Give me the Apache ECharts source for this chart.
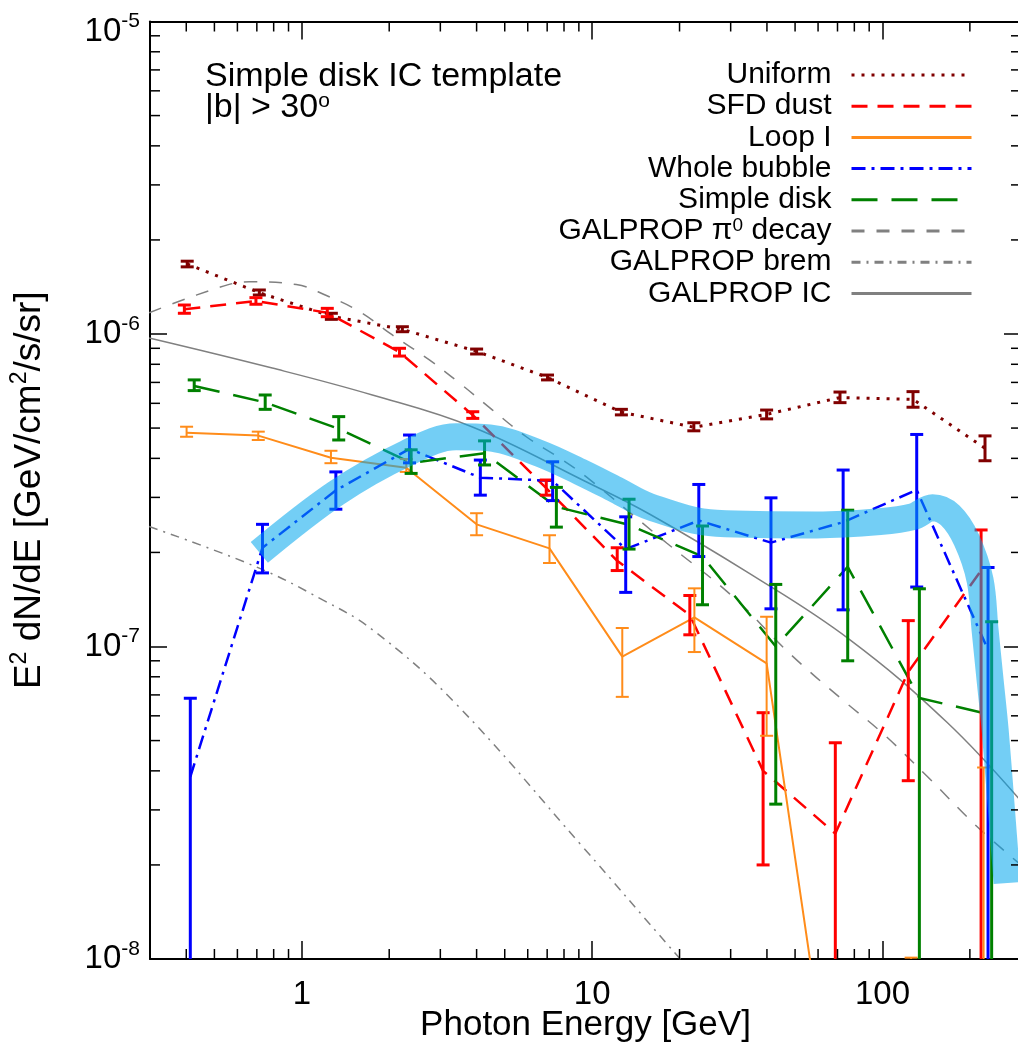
<!DOCTYPE html>
<html><head><meta charset="utf-8">
<script src="https://cdn.jsdelivr.net/npm/echarts@6/dist/echarts.min.js"></script>
<style>html,body{margin:0;padding:0;background:#fff}#c{width:1018px;height:1057px}</style>
</head><body><div id="c"></div>
<script>
// ---------------- data ----------------
const E_uniform = [0.403, 0.714, 1.264, 2.22, 4.0, 7.02, 12.61, 22.4, 39.9, 71.4, 127.4, 225.5];
const uniform   = [1.675e-6, 1.356e-6, 1.14e-6, 1.035e-6, 8.8e-7, 7.26e-7, 5.62e-7, 5.03e-7, 5.53e-7, 6.26e-7, 6.18e-7, 4.31e-7];
const uniformHi = [1.71e-6, 1.383e-6, 1.165e-6, 1.055e-6, 8.95e-7, 7.39e-7, 5.74e-7, 5.2e-7, 5.71e-7, 6.52e-7, 6.54e-7, 4.72e-7];
const uniformLo = [1.64e-6, 1.333e-6, 1.114e-6, 1.017e-6, 8.63e-7, 7.13e-7, 5.51e-7, 4.9e-7, 5.35e-7, 6.03e-7, 5.83e-7, 3.93e-7];

const E_sfd = [0.394, 0.695, 1.224, 2.17, 3.88, 6.95, 12.2, 21.7, 38.8, 68.8, 122.7, 218.6];
const sfd   = [1.2e-6, 1.275e-6, 1.17e-6, 8.75e-7, 5.5e-7, 3.21e-7, 1.88e-7, 1.26e-7, 4.0e-8, 2.52e-8, 8.3e-8, 1.75e-7];
const sfdHi = [1.238e-6, 1.307e-6, 1.208e-6, 9.0e-7, 5.64e-7, 3.41e-7, 2.07e-7, 1.456e-7, 6.14e-8, 4.92e-8, 1.21e-7, 2.36e-7];
const sfdLo = [1.165e-6, 1.245e-6, 1.136e-6, 8.5e-7, 5.37e-7, 3.05e-7, 1.75e-7, 1.09e-7, 2.0e-8, 1e-9, 3.72e-8, 1e-9];

const E_loop = [0.401, 0.708, 1.26, 2.29, 4.0, 7.13, 12.7, 22.5, 39.9, 71.4, 125.5, 223];
const loop   = [4.83e-7, 4.73e-7, 4.02e-7, 3.73e-7, 2.46e-7, 2.06e-7, 9.28e-8, 1.24e-7, 8.83e-8, 2.2e-9, 3e-9, 5e-9];
const loopHi = [5.05e-7, 4.87e-7, 4.23e-7, 3.98e-7, 2.67e-7, 2.27e-7, 1.146e-7, 1.535e-7, 1.245e-7, 8e-9, 1.01e-8, 4.1e-8];
const loopLo = [4.69e-7, 4.58e-7, 3.86e-7, 3.62e-7, 2.27e-7, 1.85e-7, 6.9e-8, 9.6e-8, 5.18e-8, 1e-9, 1e-9, 1e-9];

const E_bubble = [0.413, 0.732, 1.31, 2.35, 4.12, 7.31, 13.05, 23.3, 41.3, 73.2, 131.2, 231];
const bubble   = [3.83e-8, 2.07e-7, 3.16e-7, 4.29e-7, 3.47e-7, 3.39e-7, 2.05e-7, 2.53e-7, 2.15e-7, 2.5e-7, 3.17e-7, 9.75e-8];
const bubbleHi = [6.83e-8, 2.46e-7, 3.62e-7, 4.75e-7, 3.95e-7, 3.9e-7, 2.6e-7, 3.3e-7, 2.99e-7, 3.67e-7, 4.77e-7, 1.79e-7];
const bubbleLo = [1e-9, 1.72e-7, 2.75e-7, 3.87e-7, 3.05e-7, 2.93e-7, 1.49e-7, 1.94e-7, 1.32e-7, 1.31e-7, 1.55e-7, 1e-9];

const E_disk = [0.426, 0.748, 1.34, 2.38, 4.26, 7.53, 13.4, 24.0, 42.9, 75.9, 134, 237.7];
const disk   = [6.82e-7, 6.04e-7, 4.97e-7, 3.87e-7, 4.15e-7, 2.8e-7, 2.45e-7, 1.94e-7, 1.0e-7, 1.8e-7, 6.84e-8, 6.04e-8];
const diskHi = [7.13e-7, 6.38e-7, 5.44e-7, 4.26e-7, 4.55e-7, 3.23e-7, 2.96e-7, 2.43e-7, 1.58e-7, 2.73e-7, 1.53e-7, 1.2e-7];
const diskLo = [6.59e-7, 5.74e-7, 4.58e-7, 3.58e-7, 3.81e-7, 2.41e-7, 2.05e-7, 1.36e-7, 3.13e-8, 9.0e-8, 1e-9, 1e-9];

const E_pi0 = [0.298, 0.52, 0.66, 0.957, 1.21, 1.58, 2.05, 2.75, 3.49, 4.54, 5.93, 7.92, 9.55, 18.1, 30.6, 47.9, 73, 100, 143, 212, 300];
const pi0   = [1.17e-6, 1.41e-6, 1.47e-6, 1.44e-6, 1.33e-6, 1.18e-6, 9.93e-7, 8.26e-7, 6.97e-7, 5.71e-7, 4.69e-7, 3.95e-7, 3.49e-7, 2.14e-7, 1.44e-7, 9.5e-8, 6.74e-8, 5.28e-8, 3.83e-8, 2.65e-8, 2.0e-8];

const E_brem = [0.298, 0.695, 1.18, 1.754, 3.35, 9.3, 18.7, 27.5];
const brem   = [2.42e-7, 1.8e-7, 1.41e-7, 1.13e-7, 6.64e-8, 2.28e-8, 1.08e-8, 7.2e-9];

const E_ic = [0.298, 0.791, 1.75, 3.87, 9.57, 15.8, 34.9, 77.3, 166.4, 300];
const ic   = [9.71e-7, 7.78e-7, 6.38e-7, 5.04e-7, 3.36e-7, 2.65e-7, 1.71e-7, 1.05e-7, 5.73e-8, 3.2e-8];

const E_band = [0.714, 1.31, 2.29, 3.4, 4.43, 6.58, 9.26, 12.1, 15.8, 26.8, 59.4, 98, 127, 148.7, 171, 195, 216.9, 225.6, 234.8, 244.4, 256.3, 268.7];
const band   = [2.0e-7, 3.09e-7, 4.15e-7, 4.69e-7, 4.65e-7, 4.15e-7, 3.59e-7, 3.17e-7, 2.8e-7, 2.48e-7, 2.45e-7, 2.51e-7, 2.6e-7, 2.78e-7, 2.63e-7, 2.19e-7, 1.63e-7, 1.13e-7, 7.81e-8, 5.41e-8, 3.09e-8, 1.75e-8];

const xMinorTicks = [0.4, 0.5, 0.6, 0.7, 0.8, 0.9, 2, 3, 4, 5, 6, 7, 8, 9, 20, 30, 40, 50, 60, 70, 80, 90, 200];
const yMinorTicks = [2e-8, 3e-8, 4e-8, 5e-8, 6e-8, 7e-8, 8e-8, 9e-8, 2e-7, 3e-7, 4e-7, 5e-7, 6e-7, 7e-7, 8e-7, 9e-7, 2e-6, 3e-6, 4e-6, 5e-6, 6e-6, 7e-6, 8e-6, 9e-6];

const legendNames = ['Uniform', 'SFD dust', 'Loop I', 'Whole bubble', 'Simple disk', 'GALPROP π0 decay', 'GALPROP brem', 'GALPROP IC'];

// ---------------- chart ----------------
const FONT = '"Liberation Sans", Arial, Helvetica, sans-serif';
const chart = echarts.init(document.getElementById('c'), null, {renderer: 'canvas'});
const pairs = (xs, ys) => xs.map((x, i) => [x, ys[i]]);
const errData = (xs, lo, hi) => xs.map((x, i) => [x, lo[i], hi[i]]);

function errRender(color, lw, cap) {
  return function (params, api) {
    const cs = params.coordSys;
    const x = api.value(0);
    const pLo = api.coord([x, api.value(1)]);
    const pHi = api.coord([x, api.value(2)]);
    const top = cs.y, bot = cs.y + cs.height;
    const px = pLo[0];
    const y1 = Math.max(Math.min(pLo[1], bot), top);
    const y2 = Math.max(Math.min(pHi[1], bot), top);
    const st = {stroke: color, lineWidth: lw};
    const ch = [];
    if (y1 !== y2) ch.push({type: 'line', shape: {x1: px, y1: y1, x2: px, y2: y2}, style: st});
    if (pHi[1] >= top && pHi[1] <= bot) ch.push({type: 'line', shape: {x1: px - cap / 2, y1: pHi[1], x2: px + cap / 2, y2: pHi[1]}, style: st});
    if (pLo[1] >= top && pLo[1] <= bot) ch.push({type: 'line', shape: {x1: px - cap / 2, y1: pLo[1], x2: px + cap / 2, y2: pLo[1]}, style: st});
    return {type: 'group', children: ch};
  };
}
function errSeries(name, xs, lo, hi, color, lw) {
  return {
    type: 'custom', name: name, silent: true, z: 4,
    data: errData(xs, lo, hi),
    encode: {x: 0, y: [1, 2]},
    renderItem: errRender(color, lw, 13)
  };
}
function lineSeries(name, xs, ys, color, width, type, smooth, z) {
  return {
    type: 'line', name: name, data: pairs(xs, ys), symbol: 'none', smooth: smooth || false,
    silent: true, z: z || 3,
    lineStyle: {color: color, width: width, type: type, cap: 'butt'},
    itemStyle: {color: color}
  };
}

const tickData = xMinorTicks.map(v => [v, 1e-7, 0]).concat(yMinorTicks.map(v => [1, v, 1]));
function tickRender(params, api) {
  const cs = params.coordSys;
  const kind = api.value(2);
  const st = {stroke: '#000', lineWidth: 1.5};
  if (kind === 0) {
    const px = api.coord([api.value(0), 1e-7])[0];
    const b = cs.y + cs.height, t = cs.y;
    return {type: 'group', children: [
      {type: 'line', shape: {x1: px, y1: b, x2: px, y2: b - 10}, style: st},
      {type: 'line', shape: {x1: px, y1: t, x2: px, y2: t + 10}, style: st}
    ]};
  } else {
    const py = api.coord([1, api.value(1)])[1];
    const l = cs.x, r = cs.x + cs.width;
    return {type: 'group', children: [
      {type: 'line', shape: {x1: l, y1: py, x2: l + 10, y2: py}, style: st},
      {type: 'line', shape: {x1: r, y1: py, x2: r - 10, y2: py}, style: st}
    ]};
  }
}

function xFmt(v) {
  const e = Math.log10(v), r = Math.round(e);
  if (Math.abs(e - r) > 1e-6) return '';
  return String(Math.round(Math.pow(10, r)));
}
function yFmt(v) {
  const e = Math.log10(v), r = Math.round(e);
  if (Math.abs(e - r) > 1e-6) return '';
  if (r === -5) return '{bt|10}{st|' + r + '}';
  return '{b|10}{s|' + r + '}';
}

const axisLineStyle = {color: '#000', width: 2};
const tickStyle = {color: '#000', width: 1.5};

const option = {
  animation: false,
  backgroundColor: '#fff',
  grid: {left: 150, right: -3, top: 21.5, bottom: 98, containLabel: false, outerBoundsMode: 'none'},
  xAxis: [
    {
      type: 'log', logBase: 10, min: 0.3, max: 300, position: 'bottom',
      axisLine: {show: true, lineStyle: axisLineStyle},
      axisTick: {show: true, inside: true, length: 18, lineStyle: tickStyle},
      axisLabel: {margin: 19, fontSize: 33, fontFamily: FONT, color: '#000', formatter: xFmt},
      splitLine: {show: false}, minorTick: {show: false},
      name: 'Photon Energy [GeV]', nameLocation: 'middle', nameGap: 49, nameMoveOverlap: false,
      nameTextStyle: {fontSize: 35, fontFamily: FONT, color: '#000'}
    },
    {
      type: 'log', logBase: 10, min: 0.3, max: 300, position: 'top',
      axisLine: {show: true, lineStyle: axisLineStyle},
      axisTick: {show: true, inside: true, length: 18, lineStyle: tickStyle},
      axisLabel: {show: false}, splitLine: {show: false}
    }
  ],
  yAxis: [
    {
      type: 'log', logBase: 10, min: 1e-8, max: 1e-5, position: 'left',
      axisLine: {show: true, lineStyle: axisLineStyle},
      axisTick: {show: true, inside: true, length: 17, lineStyle: tickStyle},
      axisLabel: {
        margin: 10, color: '#000', formatter: yFmt,
        rich: {
          b: {fontSize: 33, fontFamily: FONT, color: '#000', lineHeight: 41},
          s: {fontSize: 21, fontFamily: FONT, color: '#000', lineHeight: 16, verticalAlign: 'top'},
          bt: {fontSize: 33, fontFamily: FONT, color: '#000', lineHeight: 53, verticalAlign: 'bottom'},
          st: {fontSize: 21, fontFamily: FONT, color: '#000', lineHeight: 16, verticalAlign: 'middle'}
        }
      },
      splitLine: {show: false},
      name: 'E{sup|2} dN/dE [GeV/cm{sup|2}/s/sr]', nameLocation: 'middle', nameRotate: 90, nameGap: 98,
      nameMoveOverlap: false,
      nameTextStyle: {
        fontSize: 37, fontFamily: FONT, color: '#000', lineHeight: 44,
        rich: {sup: {fontSize: 23, fontFamily: FONT, color: '#000', verticalAlign: 'top', lineHeight: 18}}
      }
    },
    {
      type: 'log', logBase: 10, min: 1e-8, max: 1e-5, position: 'right',
      axisLine: {show: true, lineStyle: axisLineStyle},
      axisTick: {show: true, inside: true, length: 17, lineStyle: tickStyle},
      axisLabel: {show: false}, splitLine: {show: false}
    }
  ],
  legend: legendNames.map((n, i) => ({
    data: [n], right: 45, top: 74 + 31.2 * i - 14, orient: 'horizontal', align: 'right',
    itemWidth: 120, itemHeight: 14, padding: 0, itemGap: 0, selectedMode: false,
    lineStyle: {width: 3},
    itemStyle: {opacity: 0, borderWidth: 0},
    formatter: n === 'GALPROP π0 decay' ? function () { return 'GALPROP π{sup|0} decay'; } : '{name}',
    textStyle: {
      fontSize: 30, fontFamily: FONT, color: '#000', padding: [0, 15, 0, 0],
      rich: {sup: {fontSize: 19, fontFamily: FONT, color: '#000', verticalAlign: 'top', lineHeight: 12}}
    }
  })),
  graphic: [
    {type: 'text', left: 205, top: 60, silent: true,
     style: {text: 'Simple disk IC template', fontSize: 34, fontFamily: FONT, fill: '#000'}},
    {type: 'text', left: 205, top: 91, silent: true,
     style: {text: '|b| > 30{sup|o}', fontSize: 34, fontFamily: FONT, fill: '#000',
             rich: {sup: {fontSize: 21, fontFamily: FONT, fill: '#000', verticalAlign: 'top', lineHeight: 16}}}}
  ],
  series: [
    lineSeries('GALPROP π0 decay', E_pi0, pi0, '#808080', 1.5, [13, 12], 0.4, 2),
    lineSeries('GALPROP brem', E_brem, brem, '#808080', 1.5, [9, 6, 2, 6], 0.4, 2),
    lineSeries('GALPROP IC', E_ic, ic, '#808080', 1.5, 'solid', 0.4, 2),
    lineSeries('Uniform', E_uniform, uniform, '#800000', 3, [3, 7]),
    lineSeries('SFD dust', E_sfd, sfd, '#ff0000', 2.5, [16, 10]),
    lineSeries('Loop I', E_loop, loop, '#ff8c1a', 2, 'solid'),
    lineSeries('Whole bubble', E_bubble, bubble, '#0000ff', 2.5, [14, 6, 3, 6]),
    lineSeries('Simple disk', E_disk, disk, '#008000', 2.5, [26, 14]),
    errSeries('Uniform err', E_uniform, uniformLo, uniformHi, '#800000', 3),
    errSeries('SFD dust err', E_sfd, sfdLo, sfdHi, '#ff0000', 3),
    errSeries('Loop I err', E_loop, loopLo, loopHi, '#ff8c1a', 2),
    errSeries('Whole bubble err', E_bubble, bubbleLo, bubbleHi, '#0000ff', 3),
    errSeries('Simple disk err', E_disk, diskLo, diskHi, '#008000', 3),
    {
      type: 'line', name: 'Simple disk IC template band', data: pairs(E_band, band), symbol: 'none',
      smooth: 0.35, silent: true, z: 5,
      lineStyle: {color: 'rgba(0,165,237,0.55)', width: 27, cap: 'butt', join: 'round'}
    },
    {
      type: 'custom', name: 'minor ticks', silent: true, z: 6,
      data: tickData, encode: {x: 0, y: 1}, renderItem: tickRender
    }
  ]
};
chart.setOption(option);
</script>
</body></html>
